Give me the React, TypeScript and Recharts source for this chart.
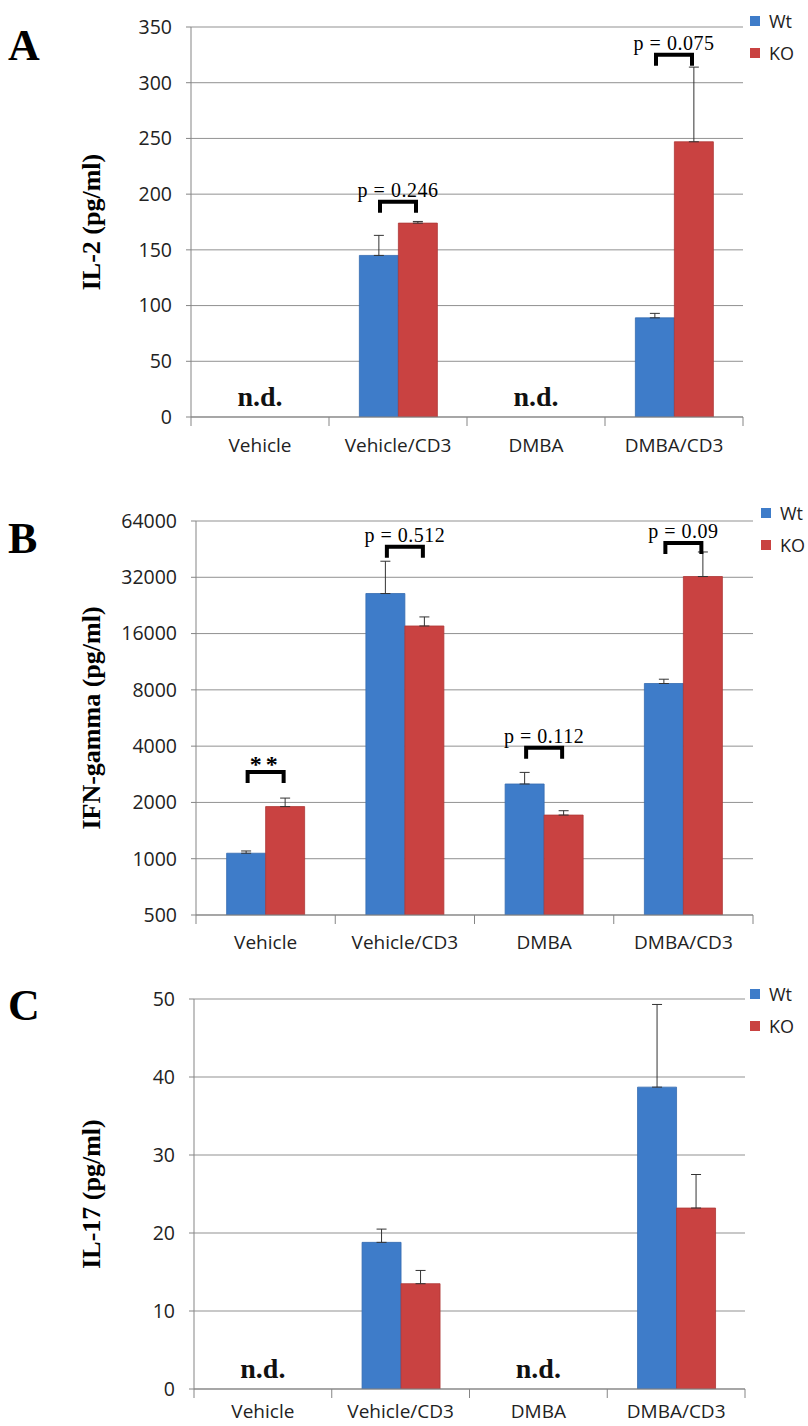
import {
  BarChart,
  Bar,
  XAxis,
  YAxis,
  CartesianGrid,
  ErrorBar,
  ReferenceDot,
  Legend,
} from "recharts";

const categories = ["Vehicle", "Vehicle/CD3", "DMBA", "DMBA/CD3"];

// panel A - IL-2 (null = n.d.)
const il2Wt = [null, 145, null, 89];
const il2WtErr = [null, 18, null, 4];
const il2Ko = [null, 174, null, 247];
const il2KoErr = [null, 1.5, null, 67];
const il2Ticks = [0, 50, 100, 150, 200, 250, 300, 350];

// panel B - IFN-gamma (log2 axis)
const ifnWt = [1070, 26200, 2510, 8650];
const ifnWtErr = [30, 12800, 385, 470];
const ifnKo = [1900, 17570, 1712, 32300];
const ifnKoErr = [210, 2070, 94, 11400];
const ifnTicks = [500, 1000, 2000, 4000, 8000, 16000, 32000, 64000];

// panel C - IL-17
const il17Wt = [null, 18.8, null, 38.7];
const il17WtErr = [null, 1.7, null, 10.6];
const il17Ko = [null, 13.5, null, 23.2];
const il17KoErr = [null, 1.7, null, 4.3];
const il17Ticks = [0, 10, 20, 30, 40, 50];

// significance brackets: category, height (axis units), text
const il2Notes = [
  { cat: "Vehicle/CD3", at: 195, text: "p = 0.246" },
  { cat: "DMBA/CD3", at: 327, text: "p = 0.075" },
];
const ifnNotes = [
  { cat: "Vehicle", at: 2980, text: "**" },
  { cat: "Vehicle/CD3", at: 47700, text: "p = 0.512" },
  { cat: "DMBA", at: 4020, text: "p = 0.112" },
  { cat: "DMBA/CD3", at: 50000, text: "p = 0.09" },
];
const notDetected = ["Vehicle", "DMBA"];

const BLUE = "#3E7CC9";
const RED = "#C94241";
const GRAY = "#858585";
const SANS = "'Open Sans', sans-serif";
const SERIF = "'Liberation Serif', 'Times New Roman', serif";

type Num = number | null;

function buildRows(wt: Num[], wtErr: Num[], ko: Num[], koErr: Num[]) {
  return categories.map((name, i) => ({
    name,
    wt: wt[i],
    ko: ko[i],
    wtErr: wtErr[i] == null ? null : [0, wtErr[i]],
    koErr: koErr[i] == null ? null : [0, koErr[i]],
  }));
}

function CatTick(props: any) {
  const { x, y, payload, index, visibleTicksCount, band, labelDy } = props;
  const half = payload && payload.offset ? payload.offset : band / 2;
  return (
    <g>
      <line x1={x - half} x2={x - half} y1={y} y2={y + 9} stroke={GRAY} />
      {index === visibleTicksCount - 1 && (
        <line x1={x + half} x2={x + half} y1={y} y2={y + 9} stroke={GRAY} />
      )}
      <text
        x={x}
        y={y + labelDy}
        textAnchor="middle"
        fontFamily={SANS}
        fontSize={19}
        fill="#222"
      >
        {payload.value}
      </text>
    </g>
  );
}

function Bracket(props: any) {
  const { cx, cy, text } = props;
  const w = 20;
  const star = text === "**";
  return (
    <g>
      <path
        d={`M${cx - w + 2},${cy + 13} V${cy + 2} H${cx + w - 2} V${cy + 13}`}
        stroke="#000"
        strokeWidth={4}
        fill="none"
      />
      <text
        x={cx}
        y={star ? cy + 2 : cy - 3}
        textAnchor="middle"
        fontFamily={SERIF}
        fontSize={star ? 24 : 20}
        fontWeight={star ? "bold" : "normal"}
        letterSpacing={star ? 4 : 0.5}
        fill="#000"
      >
        {text}
      </text>
    </g>
  );
}

function NotDetected(props: any) {
  const { cx, cy } = props;
  return (
    <text
      x={cx}
      y={cy - 11}
      textAnchor="middle"
      fontFamily={SERIF}
      fontWeight="bold"
      fontSize={28}
      fill="#111"
    >
      n.d.
    </text>
  );
}

function LegendBox() {
  const items = [
    { label: "Wt", color: BLUE },
    { label: "KO", color: RED },
  ];
  return (
    <div>
      {items.map((it) => (
        <div
          key={it.label}
          style={{ display: "flex", alignItems: "center", height: 32 }}
        >
          <span
            style={{
              width: 10,
              height: 10,
              background: it.color,
              marginRight: 9,
              display: "inline-block",
            }}
          />
          <span style={{ fontFamily: SANS, fontSize: 18, color: "#222" }}>
            {it.label}
          </span>
        </div>
      ))}
    </div>
  );
}

type PanelProps = {
  top: number;
  height: number;
  letter: string;
  letterTop: number;
  yLabel: string;
  rows: any[];
  ticks: number[];
  log?: boolean;
  margin: { top: number; right: number; bottom: number; left: number };
  yWidth: number;
  xHeight: number;
  labelDy: number;
  notes: { cat: string; at: number; text: string }[];
  nd: boolean;
  legendTop: number;
  legendLeft: number;
};

function Panel(p: PanelProps) {
  const W = 808;
  const band = (W - p.yWidth - p.margin.right) / categories.length;
  const domain = [p.ticks[0], p.ticks[p.ticks.length - 1]];
  return (
    <div style={{ position: "absolute", left: 0, top: p.top, width: W, height: p.height }}>
      <div
        style={{
          position: "absolute",
          left: 8,
          top: p.letterTop,
          fontFamily: SERIF,
          fontWeight: "bold",
          fontSize: 44,
          lineHeight: "44px",
          color: "#000",
        }}
      >
        {p.letter}
      </div>
      <BarChart
        width={W}
        height={p.height}
        data={p.rows}
        margin={p.margin}
        barCategoryGap="22%"
        barGap={0}
      >
        <CartesianGrid vertical={false} stroke={GRAY} strokeOpacity={0.9} />
        <XAxis
          dataKey="name"
          height={p.xHeight}
          axisLine={{ stroke: GRAY }}
          tickLine={false}
          tickSize={0}
          tickMargin={0}
          interval={0}
          tick={<CatTick band={band} labelDy={p.labelDy} />}
        />
        <YAxis
          width={p.yWidth}
          scale={p.log ? "log" : "linear"}
          domain={domain}
          ticks={p.ticks}
          interval={0}
          allowDataOverflow
          axisLine={{ stroke: GRAY }}
          tickLine={{ stroke: GRAY }}
          tickSize={5}
          tickMargin={14}
          tick={{ fontFamily: SANS, fontSize: 19.5, fill: "#222" }}
          label={{
            content: (lp: any) => {
              const vb = lp.viewBox || {};
              const cx = (vb.x ?? 0) + 91;
              const cy = (vb.y ?? p.margin.top) + (vb.height ?? 390) / 2;
              return (
                <text
                  x={cx}
                  y={cy}
                  transform={`rotate(-90 ${cx} ${cy})`}
                  textAnchor="middle"
                  dominantBaseline="central"
                  fontFamily={SERIF}
                  fontWeight="bold"
                  fontSize={26}
                  fill="#000"
                >
                  {p.yLabel}
                </text>
              );
            },
          }}
        />
        <Legend
          layout="vertical"
          align="center"
          verticalAlign="middle"
          content={() => <LegendBox />}
          wrapperStyle={{ top: p.legendTop, left: p.legendLeft, width: 56 }}
        />
        <Bar dataKey="wt" name="Wt" fill={BLUE} stroke="#356bb0" strokeWidth={0.8} isAnimationActive={false}>
          <ErrorBar dataKey="wtErr" width={5} stroke="#333" strokeWidth={1} direction="y" isAnimationActive={false} />
        </Bar>
        <Bar dataKey="ko" name="KO" fill={RED} stroke="#ad3736" strokeWidth={0.8} isAnimationActive={false}>
          <ErrorBar dataKey="koErr" width={5} stroke="#333" strokeWidth={1} direction="y" isAnimationActive={false} />
        </Bar>
        {p.nd &&
          notDetected.map((c) => (
            <ReferenceDot
              key={"nd" + c}
              x={c}
              y={p.ticks[0]}
              r={0}
              ifOverflow="visible"
              shape={(sp: any) => <NotDetected {...sp} />}
            />
          ))}
        {p.notes.map((n) => (
          <ReferenceDot
            key={"n" + n.cat}
            x={n.cat}
            y={n.at}
            r={0}
            ifOverflow="visible"
            shape={(sp: any) => <Bracket {...sp} text={n.text} />}
          />
        ))}
      </BarChart>
    </div>
  );
}

export default function App() {
  return (
    <div
      style={{
        position: "absolute",
        left: 0,
        top: 0,
        width: 808,
        height: 1426,
        background: "#fff",
        overflow: "hidden",
      }}
    >
      <Panel
        top={0}
        height={470}
        letter="A"
        letterTop={24}
        yLabel="IL-2 (pg/ml)"
        rows={buildRows(il2Wt, il2WtErr, il2Ko, il2KoErr)}
        ticks={il2Ticks}
        margin={{ top: 27, right: 65, bottom: 13, left: 0 }}
        yWidth={191}
        xHeight={40}
        labelDy={35}
        notes={il2Notes}
        nd
        legendTop={5}
        legendLeft={750}
      />
      <Panel
        top={480}
        height={480}
        letter="B"
        letterTop={37}
        yLabel="IFN-gamma (pg/ml)"
        rows={buildRows(ifnWt, ifnWtErr, ifnKo, ifnKoErr)}
        ticks={ifnTicks}
        log
        margin={{ top: 41, right: 55, bottom: 5, left: 0 }}
        yWidth={196}
        xHeight={40}
        labelDy={34}
        notes={ifnNotes}
        nd={false}
        legendTop={17}
        legendLeft={761}
      />
      <Panel
        top={960}
        height={466}
        letter="C"
        letterTop={24}
        yLabel="IL-17 (pg/ml)"
        rows={buildRows(il17Wt, il17WtErr, il17Ko, il17KoErr)}
        ticks={il17Ticks}
        margin={{ top: 39, right: 63, bottom: 2, left: 0 }}
        yWidth={194}
        xHeight={35}
        labelDy={29}
        notes={[]}
        nd
        legendTop={18}
        legendLeft={750}
      />
    </div>
  );
}
